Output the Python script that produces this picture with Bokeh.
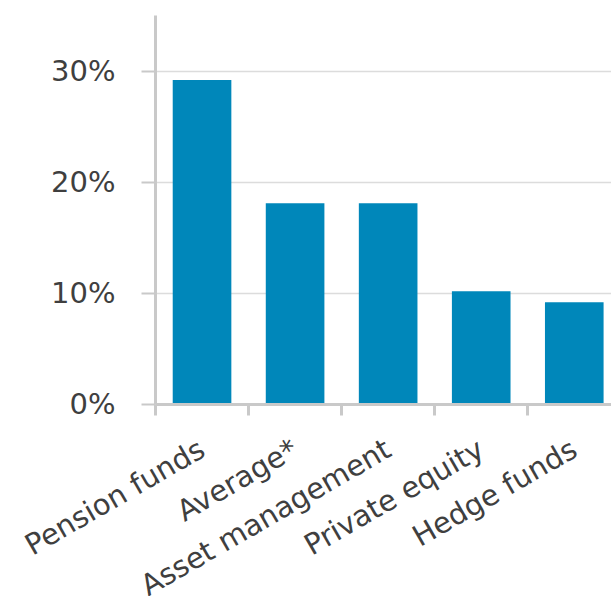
import math
from bokeh.plotting import figure
from bokeh.layouts import column
from bokeh.models import FixedTicker, PrintfTickFormatter, Range1d
from bokeh.core.properties import value
from bokeh.embed import file_html
from bokeh.resources import INLINE

categories = ["Pension funds", "Average*", "Asset management", "Private equity", "Hedge funds"]
values = [29.2, 18.1, 18.1, 10.2, 9.2]
y_ticks = [0, 10, 20, 30]

centers = [i + 0.5 for i in range(len(categories))]
bounds = [float(i) for i in range(len(categories))]

W = 611
LEFT = 155
TOP_H = 420
BOT_H = 176
X_END = 4.9
px_per_unit = (W - LEFT) / X_END

axis_color = "#c9c9c9"
text_color = "#3f3f3f"
font = "DejaVu Sans"
font_size = "29px"

p = figure(width=W, height=TOP_H, output_backend="svg", toolbar_location=None,
           x_range=Range1d(0, X_END), y_range=Range1d(0, 35), frame_align=False,
           min_border_left=LEFT, min_border_right=0, min_border_top=15, min_border_bottom=16)
p.outline_line_color = None
p.background_fill_color = "white"
p.border_fill_color = "white"

p.vbar(x=centers, top=values, width=0.63, bottom=0, fill_color="#0087ba", line_color=None)

xa = p.xaxis[0]
xa.ticker = FixedTicker(ticks=[], minor_ticks=bounds)
xa.major_tick_line_color = None
xa.minor_tick_line_color = axis_color
xa.minor_tick_line_width = 3
xa.minor_tick_out = 11
xa.minor_tick_in = 0
xa.axis_line_color = axis_color
xa.axis_line_width = 3
xa.major_label_text_font_size = "0px"
xa.major_label_standoff = 0

ya = p.yaxis[0]
ya.ticker = FixedTicker(ticks=y_ticks)
ya.formatter = PrintfTickFormatter(format="%d%%")
ya.major_tick_line_color = axis_color
ya.major_tick_line_width = 2
ya.major_tick_out = 14
ya.major_tick_in = 0
ya.minor_tick_line_color = None
ya.axis_line_color = axis_color
ya.axis_line_width = 3
ya.major_label_text_font = font
ya.major_label_text_font_size = font_size
ya.major_label_text_color = text_color
ya.major_label_standoff = 26

p.xgrid.grid_line_color = None
p.ygrid.ticker = FixedTicker(ticks=y_ticks)
p.ygrid.grid_line_color = "#dcdcdc"
p.ygrid.grid_line_width = 1.5

# category labels, drawn in a strip below the chart that shares its x scale
p2 = figure(width=W, height=BOT_H, output_backend="svg", toolbar_location=None,
            x_range=Range1d(-LEFT / px_per_unit, X_END), y_range=Range1d(0, BOT_H),
            x_axis_type=None, y_axis_type=None, frame_align=False,
            min_border_left=0, min_border_right=0, min_border_top=0, min_border_bottom=0)
p2.outline_line_color = None
p2.grid.grid_line_color = None
p2.background_fill_color = "white"
p2.border_fill_color = "white"
p2.text(x=centers, y=[BOT_H - 26] * len(centers), text=categories,
        angle=math.radians(30), text_align="right", text_baseline="middle",
        text_font=value(font), text_font_size=value(font_size), text_color=text_color)

layout = column(p, p2, spacing=0)
open("out.html", "w").write(file_html(layout, INLINE))
